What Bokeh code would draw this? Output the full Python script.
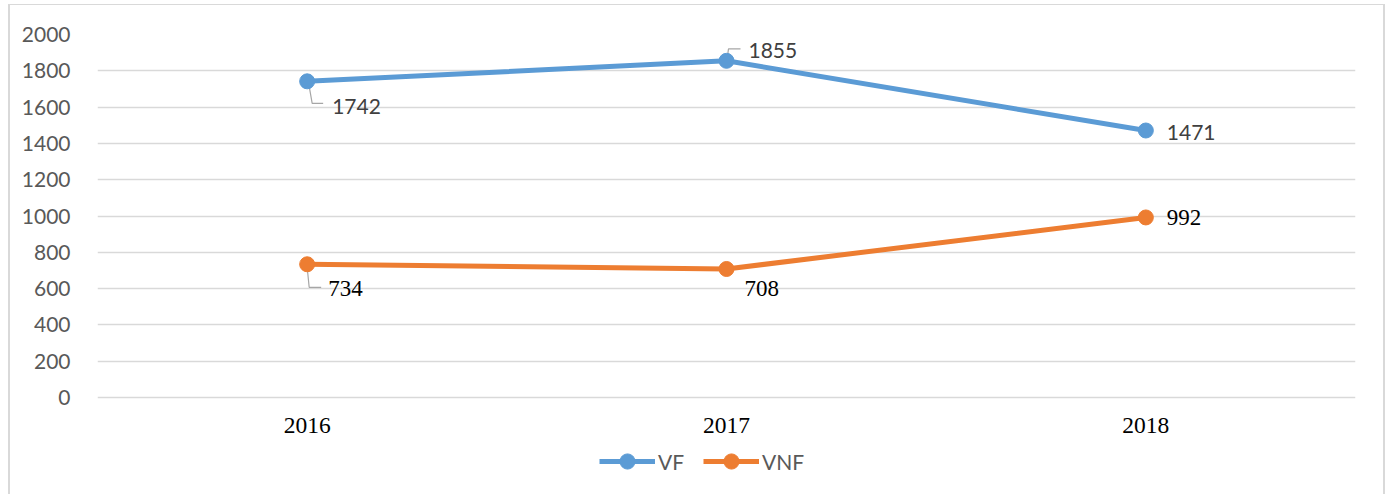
from bokeh.plotting import figure
from bokeh.models import FactorRange, Range1d, FixedTicker, Legend, LegendItem
from bokeh.core.properties import value
from bokeh.embed import file_html
from bokeh.resources import INLINE

years = ["2016", "2017", "2018"]
vf = [1742, 1855, 1471]
vnf = [734, 708, 992]
y_ticks = [0, 200, 400, 600, 800, 1000, 1200, 1400, 1600, 1800, 2000]

BLUE = "#5B9BD5"
ORANGE = "#ED7D31"
W, H = 1386, 494
FL, FR, FT = 97, 31, 34          # frame edges (px)
ZERO_Y = 397                     # pixel row of the value 0
YMAX = 2000
FW = W - FL - FR
PLOT_H = ZERO_Y - FT             # pixels spanned by 0..YMAX
uy = YMAX / PLOT_H               # data units per px (y)
Y0 = -(H - ZERO_Y) * uy          # frame extends below 0 to hold axis labels and legend

p = figure(width=W, height=H, x_range=FactorRange(factors=years, range_padding=0),
           y_range=Range1d(Y0, YMAX), output_backend="svg", toolbar_location=None,
           min_border_left=FL, min_border_right=FR, min_border_top=FT, min_border_bottom=0)
p.border_fill_color = None
p.background_fill_color = None
p.styles = {
    "background-color": "white",
    "background-image": ", ".join(["linear-gradient(#d9d9d9, #d9d9d9)"] * 3),
    "background-size": "2px 490px, 1377px 1px, 2px 490px",
    "background-position": "8px 4px, 8px 4px, 1383px 4px",
    "background-repeat": "no-repeat",
}
p.outline_line_color = None
p.xgrid.grid_line_color = None
p.ygrid.grid_line_color = "#d9d9d9"
p.ygrid.grid_line_width = 1.3
p.yaxis.ticker = FixedTicker(ticks=y_ticks)

for ax in (p.xaxis, p.yaxis):
    ax.axis_line_color = None
    ax.major_tick_line_color = None
    ax.minor_tick_line_color = None
p.xaxis.fixed_location = 0
p.yaxis.major_label_text_font = "Lato"
p.yaxis.major_label_text_font_size = "21px"
p.yaxis.major_label_text_color = "#595959"
p.yaxis.major_label_standoff = 21
p.xaxis.major_label_text_font = "Liberation Serif"
p.xaxis.major_label_text_font_size = "23.5px"
p.xaxis.major_label_text_color = "#000000"
p.xaxis.major_label_standoff = 14

xc = [i + 0.5 for i in range(len(years))]
ux = 1.0 / (FW / len(years))   # data units per px (x)

def leader(i, vals, pts):
    return ([xc[i] + dx * ux for dx, dy in pts], [vals[i] - dy * uy for dx, dy in pts])

# leader lines (pixel offsets from the point)
lx, ly = [], []
for i, vals, pts in [(0, vf, [(1.5, 2), (5, 22), (16, 22)]),
                     (1, vf, [(1, -5), (2, -12), (14, -12)]),
                     (0, vnf, [(0, 3), (2, 23), (14, 23)])]:
    a, b = leader(i, vals, pts)
    lx.append(a); ly.append(b)
p.multi_line(lx, ly, line_color="#a6a6a6", line_width=1.2)

l1 = p.line(years, vf, line_color=BLUE, line_width=5)
m1 = p.scatter(years, vf, size=15, fill_color=BLUE, line_color=BLUE)
l2 = p.line(years, vnf, line_color=ORANGE, line_width=5)
m2 = p.scatter(years, vnf, size=15, fill_color=ORANGE, line_color=ORANGE)

# data labels
vf_off = [(25, 25), (22, -10), (21, 2)]
vnf_off = [(21, 24), (18, 20), (21, 0)]
for i in range(3):
    p.text([years[i]], [vf[i]], text=[str(vf[i])], x_offset=vf_off[i][0], y_offset=vf_off[i][1],
           text_font=value("Lato"), text_font_size="21px", text_color="#404040",
           text_align="left", text_baseline="middle")
    p.text([years[i]], [vnf[i]], text=[str(vnf[i])], x_offset=vnf_off[i][0], y_offset=vnf_off[i][1],
           text_font=value("Liberation Serif"), text_font_size="23px", text_color="#000000",
           text_align="left", text_baseline="middle")

legend = Legend(items=[LegendItem(label="VF", renderers=[l1, m1]),
                       LegendItem(label="VNF", renderers=[l2, m2])],
                orientation="horizontal", location=(502, 14),
                glyph_width=56, glyph_height=38, label_standoff=3, spacing=19,
                padding=0, margin=0, border_line_color=None, background_fill_alpha=0,
                label_text_font="Lato", label_text_font_size="21px", label_text_color="#595959")
p.add_layout(legend)

open("out.html", "w").write(file_html(p, INLINE))
